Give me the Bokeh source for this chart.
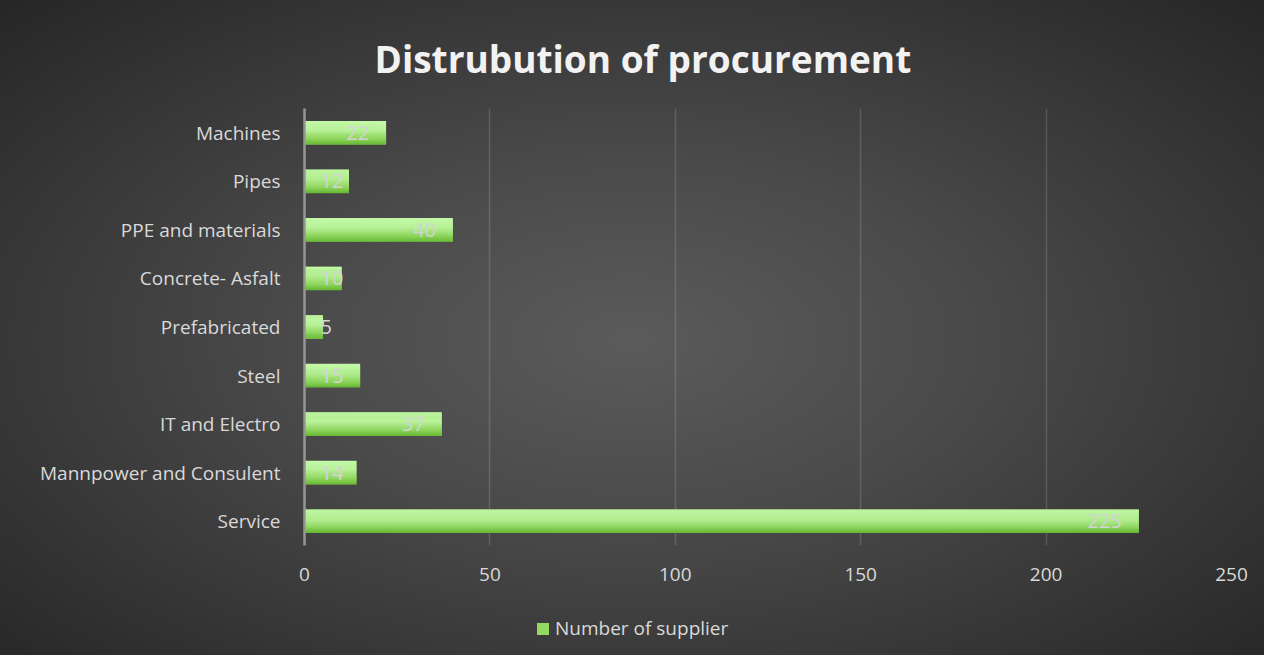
from bokeh.plotting import figure
from bokeh.layouts import column
from bokeh.models import ColumnDataSource, FactorRange, Range1d, Legend, LegendItem
from bokeh.transform import dodge
from bokeh.core.properties import value, field
from bokeh.embed import file_html
from bokeh.resources import INLINE

# ---- data ----
categories = ["Machines", "Pipes", "PPE and materials", "Concrete- Asfalt",
              "Prefabricated", "Steel", "IT and Electro",
              "Mannpower and Consulent", "Service"]
suppliers = [22, 12, 40, 10, 5, 15, 37, 14, 225]
x_ticks = [0, 50, 100, 150, 200, 250]
series_name = "Number of supplier"
title_text = "Distrubution of procurement"

# ---- layout ----
W = 1264
H_MAIN, H_LEG = 600, 55
ML, MR, MT = 304, 33, 108
FONT = "Open Sans"
TXT = "#d9d9d9"

yr = FactorRange(factors=categories[::-1])
xr = Range1d(0, 250)

p = figure(width=W, height=H_MAIN, y_range=yr, x_range=xr,
           output_backend="svg", toolbar_location=None,
           min_border_left=ML, min_border_right=MR,
           min_border_top=MT, min_border_bottom=H_MAIN - 545)
p.border_fill_alpha = 0
p.background_fill_alpha = 0
p.outline_line_color = None

p.title.text = title_text
p.title.align = "left"
p.title.offset = 70
p.title.standoff = 50
p.title.text_font = FONT
p.title.text_font_size = "37px"
p.title.text_font_style = "bold"
p.title.text_color = "#f2f2f2"

# ---- bars: gradient built from stacked strips ----
bar_h = 0.48
src = ColumnDataSource(dict(cat=categories, val=suppliers))
p.hbar(y="cat", right="val", left=0, height=bar_h, source=src,
       fill_color="#8fd660", line_color=None)

stops = [(0.0, (0xc4, 0xf8, 0xa8)), (0.4, (0xb8, 0xf1, 0x98)),
         (0.75, (0x90, 0xd6, 0x60)), (1.0, (0x66, 0xb8, 0x32))]

def grad(t):
    for (t0, c0), (t1, c1) in zip(stops[:-1], stops[1:]):
        if t0 <= t <= t1:
            f = (t - t0) / (t1 - t0)
            return "#%02x%02x%02x" % tuple(round(a + (b - a) * f) for a, b in zip(c0, c1))
    return "#%02x%02x%02x" % stops[-1][1]

N = 24
sh = bar_h / N
for i in range(N):
    t = (i + 0.5) / N          # 0 = top
    off = bar_h / 2 - (i + 0.5) * sh
    p.hbar(y=dodge("cat", off, range=yr), right="val", left=0,
           height=sh * 1.3, source=src, fill_color=grad(t), line_color=None)

# ---- value labels (inside end, clamped near the axis) ----
scale = (W - ML - MR) / 250.0
aligns, xs, xoffs = [], [], []
for v in suppliers:
    w = 11.5 * len(str(v))
    if v * scale - 17 - w >= 16:
        aligns.append("right"); xs.append(v); xoffs.append(-17)
    else:
        aligns.append("left"); xs.append(0); xoffs.append(16)
lsrc = ColumnDataSource(dict(cat=categories, x=xs,
                             label=[str(v) for v in suppliers],
                             align=aligns, xoff=xoffs))
p.text(x="x", y="cat", text="label", source=lsrc,
       text_align=field("align"), x_offset="xoff", text_baseline="middle",
       text_font=value(FONT), text_font_size="20px", text_color="#d4d4d4")

# ---- axes & grid ----
p.ygrid.visible = False
p.xgrid.grid_line_color = "white"
p.xgrid.grid_line_alpha = 0.14
p.xgrid.grid_line_width = 1.5

p.xaxis.ticker = x_ticks
p.xaxis.axis_line_color = None
p.xaxis.major_tick_line_color = None
p.xaxis.minor_tick_line_color = None
p.xaxis.major_label_text_font = FONT
p.xaxis.major_label_text_font_size = "19px"
p.xaxis.major_label_text_color = TXT
p.xaxis.major_label_standoff = 16

p.yaxis.axis_line_color = "#969696"
p.yaxis.axis_line_width = 2.5
p.yaxis.major_tick_line_color = None
p.yaxis.minor_tick_line_color = None
p.yaxis.major_label_text_font = FONT
p.yaxis.major_label_text_font_size = "19px"
p.yaxis.major_label_text_color = TXT
p.yaxis.major_label_standoff = 18

# ---- legend strip below ----
lg = figure(width=W, height=H_LEG, y_range=yr, x_range=xr,
            output_backend="svg", toolbar_location=None,
            x_axis_type=None, y_axis_type=None, min_border=0)
lg.border_fill_alpha = 0
lg.background_fill_alpha = 0
lg.outline_line_color = None
lg.grid.visible = False
lr = lg.hbar(y="cat", right="val", left=0, height=bar_h, source=src,
             fill_color="#93d964", line_color=None, visible=False)

legend = Legend(items=[LegendItem(label=series_name, renderers=[lr])],
                orientation="horizontal", location=(231, 14),
                glyph_width=15, glyph_height=15, label_standoff=5,
                padding=0, margin=0, spacing=0,
                label_text_font=FONT, label_text_font_size="19px",
                label_text_color=TXT,
                background_fill_alpha=0, border_line_color=None)
lg.add_layout(legend, "center")

layout = column(p, lg, spacing=0)
layout.styles = {"background": "radial-gradient(ellipse farthest-corner at 50% 52%, #5b5b5b 0%, #4a4a4a 38%, #262626 100%)"}

open("out.html", "w").write(file_html(layout, INLINE))
